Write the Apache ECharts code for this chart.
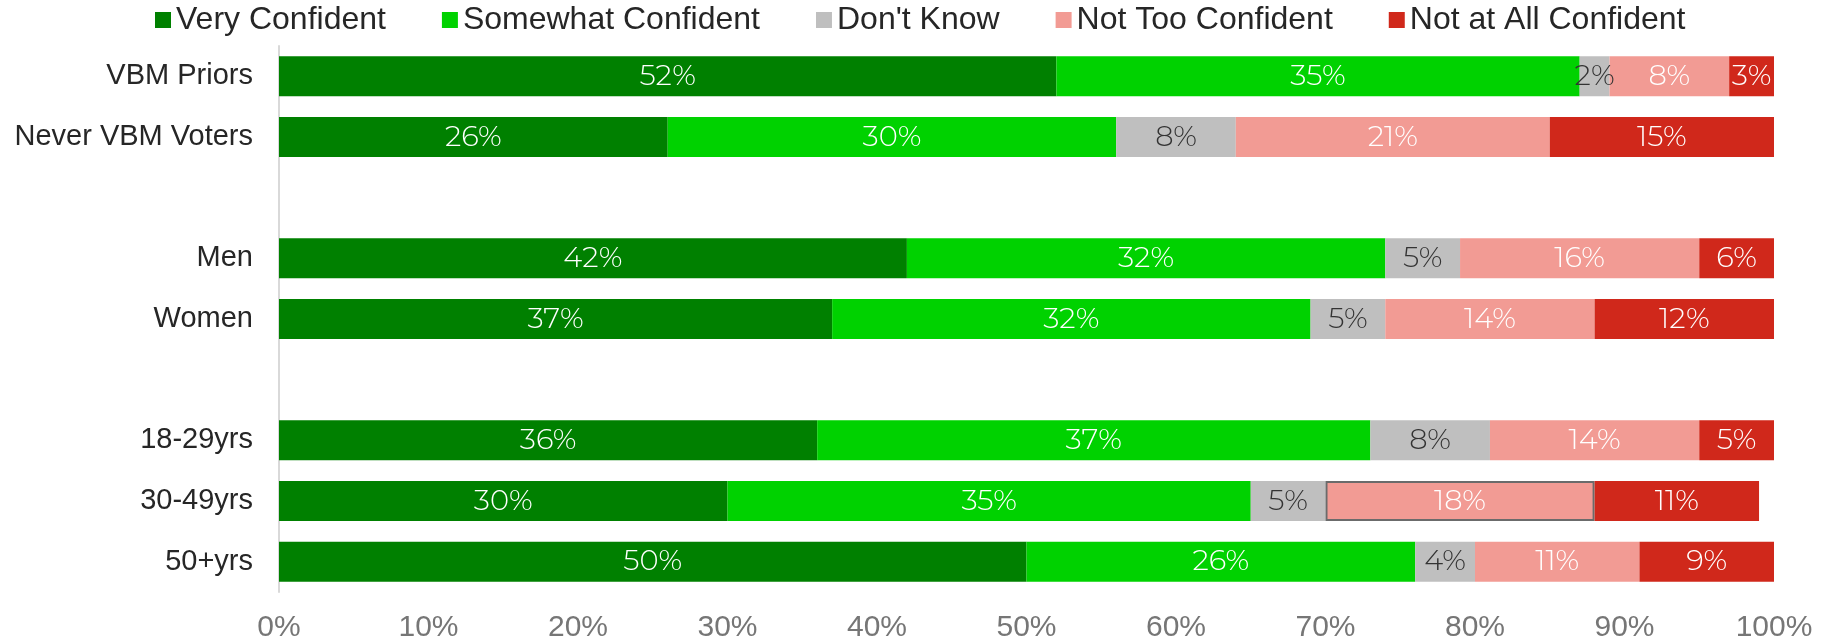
<!DOCTYPE html>
<html>
<head>
<meta charset="utf-8">
<script src="https://cdn.jsdelivr.net/npm/echarts@6/dist/echarts.min.js"></script>
<style>html,body{margin:0;padding:0;background:#fff;}#c{width:1831px;height:643px;}</style>
</head>
<body>
<div id="c"></div>
<script>
// Categories top to bottom (blank entries are spacer rows)
var categories = ['VBM Priors', 'Never VBM Voters', '', 'Men', 'Women', ' ', '18-29yrs', '30-49yrs', '50+yrs'];
var seriesNames = ['Very Confident', 'Somewhat Confident', "Don't Know", 'Not Too Confident', 'Not at All Confident'];
var veryConfident     = [52, 26, null, 42, 37, null, 36, 30, 50];
var somewhatConfident = [35, 30, null, 32, 32, null, 37, 35, 26];
var dontKnow          = [2, 8, null, 5, 5, null, 8, 5, 4];
var notTooConfident   = [8, 21, null, 16, 14, null, 14, 18, 11];
var notAtAllConfident = [3, 15, null, 6, 12, null, 5, 11, 9];
var xTicks = [0, 10, 20, 30, 40, 50, 60, 70, 80, 90, 100];

var colors = ['#008000', '#00d200', '#bfbfbf', '#f29b94', '#d0281b'];
var labelColors = ['#ffffff', '#ffffff', '#333333', '#ffffff', '#ffffff'];
var allData = [veryConfident, somewhatConfident, dontKnow, notTooConfident, notAtAllConfident];

var chart = echarts.init(document.getElementById('c'), null, {renderer: 'canvas'});
var series = allData.map(function (arr, i) {
  return {
    name: seriesNames[i],
    type: 'bar',
    stack: 'total',
    barWidth: 40,
    clip: true,
    itemStyle: {color: colors[i]},
    label: {
      show: true,
      position: 'inside',
      formatter: function (p) { return p.value == null ? '' : p.value + '%'; },
      color: labelColors[i],
      fontFamily: 'Montserrat, "Open Sans", "Noto Sans", sans-serif',
      fontWeight: 300,
      fontSize: 29
    },
    data: arr.map(function (v, j) {
      if (i === 3 && categories[j] === '30-49yrs') {
        return {value: v, itemStyle: {borderColor: '#6b6b6b', borderWidth: 2}};
      }
      return v;
    })
  };
});

chart.setOption({
  animation: false,
  backgroundColor: '#ffffff',
  legend: {
    top: 4,
    left: 155,
    padding: 0,
    itemWidth: 16,
    itemHeight: 16,
    itemGap: 56,
    icon: 'rect',
    textStyle: {
      fontFamily: '"Liberation Sans", Arial, sans-serif',
      fontSize: 32,
      color: '#262626'
    },
    data: seriesNames
  },
  grid: {left: 279, right: 57, top: 46, bottom: 51, containLabel: false},
  xAxis: {
    type: 'value',
    min: 0,
    max: 100,
    interval: 10,
    axisLine: {show: false},
    axisTick: {show: false},
    splitLine: {show: false},
    axisLabel: {
      formatter: function (v) { return xTicks.indexOf(v) >= 0 ? v + '%' : ''; },
      color: '#767676',
      fontFamily: '"Liberation Sans", Arial, sans-serif',
      fontSize: 30,
      margin: 21
    }
  },
  yAxis: {
    type: 'category',
    inverse: true,
    data: categories,
    axisLine: {show: true, lineStyle: {color: '#d9d9d9', width: 2}},
    axisTick: {show: false},
    axisLabel: {
      color: '#262626',
      fontFamily: '"Liberation Sans", Arial, sans-serif',
      fontSize: 29,
      margin: 26
    }
  },
  series: series
});
</script>
</body>
</html>
